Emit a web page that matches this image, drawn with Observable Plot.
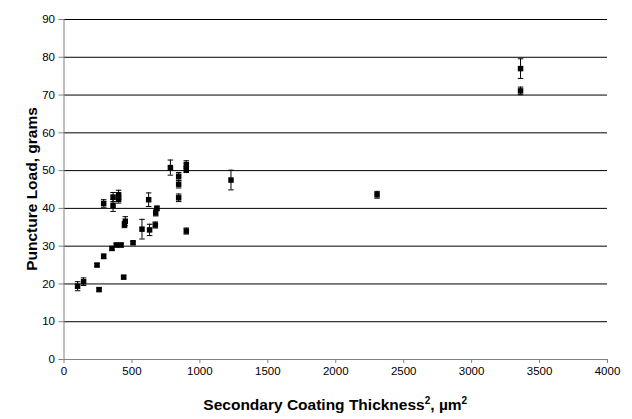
<!DOCTYPE html>
<html>
<head>
<meta charset="utf-8">
<script src="https://cdn.jsdelivr.net/npm/d3@7"></script>
<script src="https://cdn.jsdelivr.net/npm/@observablehq/plot@0.6"></script>
<style>
  html, body { margin: 0; padding: 0; background: #fff; }
  svg { display: block; }
</style>
</head>
<body>
<div id="chart"></div>
<script>
// Secondary coating thickness squared (µm²)
const thickness = [100, 144, 243, 258, 292, 292, 353, 361, 361, 385, 402, 402, 420, 439, 451, 445, 508, 574, 623, 630, 672, 675, 684, 783, 844, 844, 844, 900, 900, 900, 1229, 2304, 3360, 3360];
// Puncture load (grams)
const load = [19.4, 20.6, 25.0, 18.5, 27.3, 41.3, 29.4, 43.0, 40.8, 30.3, 43.6, 42.4, 30.3, 21.8, 36.6, 35.7, 30.9, 34.5, 42.3, 34.3, 35.6, 38.8, 40.0, 50.8, 48.5, 46.4, 42.8, 51.6, 50.3, 34.0, 47.5, 43.6, 77.0, 71.1];
// Error (± grams)
const err = [1.2, 1.0, 0.4, 0.4, 0.6, 1.0, 0.5, 1.2, 1.6, 0.5, 1.2, 1.0, 0.5, 0.4, 1.2, 0.8, 0.4, 2.6, 1.8, 1.5, 0.8, 0.8, 0.6, 2.0, 1.0, 1.0, 1.0, 1.0, 0.8, 0.8, 2.6, 0.9, 2.6, 1.0];

const xTicks = [0, 500, 1000, 1500, 2000, 2500, 3000, 3500, 4000];
const yTicks = [0, 10, 20, 30, 40, 50, 60, 70, 80, 90];

const data = thickness.map((x, i) => ({x, y: load[i], e: err[i]}));

const hline = {
  draw(context, size) {
    const r = Math.sqrt(size) / 2;
    context.moveTo(-r, 0);
    context.lineTo(r, 0);
  }
};

const font = "'Liberation Sans', Arial, sans-serif";

const chart = Plot.plot({
  width: 632,
  height: 419,
  marginLeft: 63.5,
  marginRight: 25,
  marginTop: 19,
  marginBottom: 60,
  style: {fontFamily: font, fontSize: "11.5px", color: "#000", background: "#fff"},
  x: {domain: [0, 4000], ticks: xTicks},
  y: {domain: [0, 90], ticks: yTicks},
  marks: [
    Plot.gridY(yTicks.filter(d => d > 0), {stroke: "#000", strokeOpacity: 1, strokeWidth: 1}),
    Plot.ruleX([0], {stroke: "#808080"}),
    Plot.ruleY([0], {stroke: "#808080"}),
    Plot.axisX({ticks: xTicks, tickFormat: d => String(d), tickSize: 4, tickPadding: 3, stroke: "#808080", label: null, fill: "#000", fontSize: 11.5}),
    Plot.axisY({ticks: yTicks, tickFormat: d => String(d), tickSize: 5, tickPadding: 4, stroke: "#808080", label: null, fill: "#000", fontSize: 11.5}),
    Plot.ruleX(data, {x: "x", y1: d => d.y - d.e, y2: d => d.y + d.e, stroke: "#000", strokeWidth: 1}),
    Plot.dot(data, {x: "x", y: d => d.y - d.e, symbol: hline, r: 3.1, stroke: "#000", strokeWidth: 1, fill: "none"}),
    Plot.dot(data, {x: "x", y: d => d.y + d.e, symbol: hline, r: 3.1, stroke: "#000", strokeWidth: 1, fill: "none"}),
    Plot.dot(data, {x: "x", y: "y", symbol: "square", r: 3.1, fill: "#000", stroke: "none"})
  ]
});

const svg = d3.select(chart);
// X axis title with superscripts
const xt = svg.append("text")
  .attr("x", (63.5 + 607) / 2)
  .attr("y", 410)
  .attr("text-anchor", "middle")
  .attr("font-family", font)
  .attr("font-weight", "bold")
  .attr("font-size", 15.5)
  .attr("fill", "#000");
xt.append("tspan").text("Secondary Coating Thickness");
xt.append("tspan").attr("dy", -6).attr("font-size", 10).text("2");
xt.append("tspan").attr("dy", 6).text(", µm");
xt.append("tspan").attr("dy", -6).attr("font-size", 10).text("2");

// Y axis title
svg.append("text")
  .attr("transform", `translate(37, ${(19 + 359) / 2}) rotate(-90)`)
  .attr("text-anchor", "middle")
  .attr("font-family", font)
  .attr("font-weight", "bold")
  .attr("font-size", 15.5)
  .attr("fill", "#000")
  .text("Puncture Load, grams");

document.getElementById("chart").appendChild(chart);
</script>
</body>
</html>
